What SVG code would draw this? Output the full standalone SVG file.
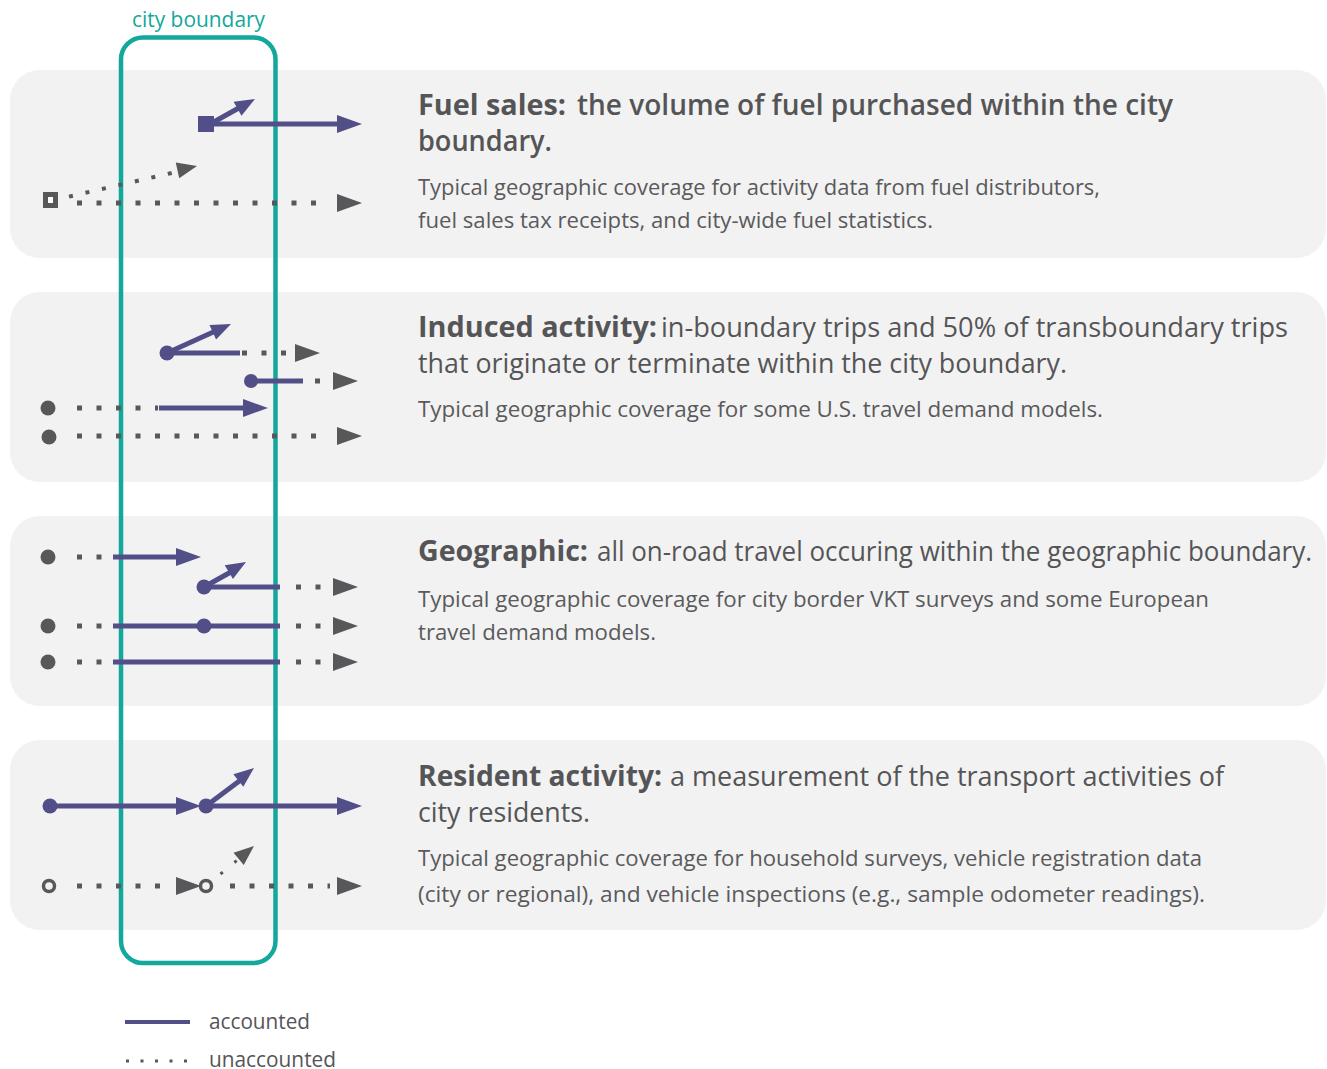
<svg xmlns="http://www.w3.org/2000/svg" xmlns:xlink="http://www.w3.org/1999/xlink" width="1327" height="1069" viewBox="0 0 1327 1069">
<style>
.bg{fill:#f2f2f2}
.t{font-family:"Open Sans","Noto Sans","Liberation Sans",sans-serif;fill:#555557}
.tb{font-size:28px;font-weight:700}
.tm{font-size:28px;font-weight:600}
.tr{font-size:28px;font-weight:400}
.ts{font-size:21px;font-weight:400;fill:#5a5a5c}
.acc{stroke:#524f88;stroke-width:5;fill:none}
.una{stroke:#58585a;stroke-width:5;fill:none;stroke-dasharray:5 14.5}
.pf{fill:#524f88}
.gf{fill:#58585a}
.bnd{fill:none;stroke:#13a89b;stroke-width:4.5}
.lab{font-family:"Open Sans","Noto Sans","Liberation Sans",sans-serif;font-size:22px}
</style>
<defs>
<path id="ah" d="M0,0 L-25,-9 L-25,9 Z"/>
<path id="ahs" d="M0,0 L-20,-8 L-20,8 Z"/>
</defs>

<g id="panel-fuel">
<rect class="bg" x="10" y="70" width="1316" height="188" rx="30"/>
<text class="t tb" x="418" y="115" textLength="148" lengthAdjust="spacingAndGlyphs">Fuel sales:</text>
<text class="t tm" x="577" y="115" textLength="596" lengthAdjust="spacingAndGlyphs">the volume of fuel purchased within the city</text>
<text class="t tm" x="418" y="151" textLength="134" lengthAdjust="spacingAndGlyphs">boundary.</text>
<text class="t ts" x="418" y="195" textLength="682" lengthAdjust="spacingAndGlyphs">Typical geographic coverage for activity data from fuel distributors,</text>
<text class="t ts" x="418" y="228" textLength="515" lengthAdjust="spacingAndGlyphs">fuel sales tax receipts, and city-wide fuel statistics.</text>
</g>

<g id="panel-induced">
<rect class="bg" x="10" y="292" width="1316" height="190" rx="30"/>
<text class="t tb" x="418" y="337" textLength="239" lengthAdjust="spacingAndGlyphs">Induced activity:</text>
<text class="t tr" x="661" y="337" textLength="627" lengthAdjust="spacingAndGlyphs">in-boundary trips and 50% of transboundary trips</text>
<text class="t tr" x="418" y="373" textLength="649" lengthAdjust="spacingAndGlyphs">that originate or terminate within the city boundary.</text>
<text class="t ts" x="418" y="417" textLength="685" lengthAdjust="spacingAndGlyphs">Typical geographic coverage for some U.S. travel demand models.</text>
</g>

<g id="panel-geographic">
<rect class="bg" x="10" y="516" width="1316" height="190" rx="30"/>
<text class="t tb" x="418" y="561" textLength="170" lengthAdjust="spacingAndGlyphs">Geographic:</text>
<text class="t tr" x="597" y="561" textLength="715" lengthAdjust="spacingAndGlyphs">all on-road travel occuring within the geographic boundary.</text>
<text class="t ts" x="418" y="607" textLength="791" lengthAdjust="spacingAndGlyphs">Typical geographic coverage for city border VKT surveys and some European</text>
<text class="t ts" x="418" y="640" textLength="238" lengthAdjust="spacingAndGlyphs">travel demand models.</text>
</g>

<g id="panel-resident">
<rect class="bg" x="10" y="740" width="1316" height="190" rx="30"/>
<text class="t tb" x="418" y="786" textLength="244" lengthAdjust="spacingAndGlyphs">Resident activity:</text>
<text class="t tr" x="670" y="786" textLength="554" lengthAdjust="spacingAndGlyphs">a measurement of the transport activities of</text>
<text class="t tr" x="418" y="822" textLength="172" lengthAdjust="spacingAndGlyphs">city residents.</text>
<text class="t ts" x="418" y="866" textLength="784" lengthAdjust="spacingAndGlyphs">Typical geographic coverage for household surveys, vehicle registration data</text>
<text class="t ts" x="418" y="902" textLength="787" lengthAdjust="spacingAndGlyphs">(city or regional), and vehicle inspections (e.g., sample odometer readings).</text>
</g>

<g id="city-boundary">
<rect class="bnd" x="121" y="37.5" width="154.5" height="925.5" rx="22"/>
<text class="lab" x="198.5" y="27" text-anchor="middle" fill="#13a89b" textLength="133" lengthAdjust="spacingAndGlyphs">city boundary</text>
</g>

<g id="connectors">
<!-- Panel 1: fuel sales -->
<rect class="pf" x="198" y="116" width="16" height="16"/>
<path class="acc" d="M212,124 H340"/>
<use xlink:href="#ah" class="pf" x="362" y="124"/>
<path class="acc" d="M212,123 L242.8,105.8"/>
<use xlink:href="#ahs" class="pf" transform="translate(255,99) rotate(-29.3)"/>
<rect x="45.5" y="194.5" width="10" height="11" fill="#ffffff" stroke="#58585a" stroke-width="5"/>
<path class="una" d="M77,203 H330"/>
<use xlink:href="#ah" class="gf" x="362" y="203"/>
<path class="una" d="M69,196.6 L178,171.5" style="stroke-width:4;stroke-dasharray:4 12.9"/>
<use xlink:href="#ahs" class="gf" transform="translate(197,166) rotate(-12.6)"/>

<!-- Panel 2: induced -->
<path class="acc" d="M167,353 H240"/>
<path class="una" d="M242,353 H290"/>
<use xlink:href="#ah" class="gf" x="320" y="353"/>
<path class="acc" d="M167,353 L218.3,329.8"/>
<use xlink:href="#ahs" class="pf" transform="translate(231,324) rotate(-24.4)"/>
<circle class="pf" cx="167" cy="353" r="7.5"/>
<path class="acc" d="M251,381 H303"/>
<path class="una" d="M315,381 H325"/>
<use xlink:href="#ah" class="gf" x="358" y="381"/>
<circle class="pf" cx="251" cy="381" r="7"/>
<path class="una" d="M77,408 H158"/>
<path class="acc" d="M159,408 H246"/>
<use xlink:href="#ah" class="pf" x="268" y="408"/>
<circle class="gf" cx="48" cy="408" r="7.5"/>
<path class="una" d="M77,436 H330"/>
<use xlink:href="#ah" class="gf" x="362" y="436"/>
<circle class="gf" cx="49" cy="437" r="7.5"/>

<!-- Panel 3: geographic -->
<path class="una" d="M77,557 H105"/>
<path class="acc" d="M113,557 H180"/>
<use xlink:href="#ah" class="pf" x="201" y="557"/>
<circle class="gf" cx="48" cy="557" r="7.5"/>
<path class="acc" d="M204,587 H280"/>
<path class="una" d="M296,587 H325"/>
<use xlink:href="#ah" class="gf" x="358" y="587"/>
<path class="acc" d="M204,587 L234,570.2"/>
<use xlink:href="#ahs" class="pf" transform="translate(246,562) rotate(-30.8)"/>
<circle class="pf" cx="204" cy="587" r="7.5"/>
<path class="una" d="M77,626 H105"/>
<path class="acc" d="M113,626 H280"/>
<path class="una" d="M296,626 H325"/>
<use xlink:href="#ah" class="gf" x="358" y="626"/>
<circle class="gf" cx="48" cy="626" r="7.5"/>
<circle class="pf" cx="204" cy="626" r="7.5"/>
<path class="una" d="M77,662 H105"/>
<path class="acc" d="M113,662 H280"/>
<path class="una" d="M296,662 H325"/>
<use xlink:href="#ah" class="gf" x="358" y="662"/>
<circle class="gf" cx="48" cy="662" r="7.5"/>

<!-- Panel 4: resident -->
<path class="acc" d="M50,806 H180"/>
<use xlink:href="#ah" class="pf" x="201" y="806"/>
<path class="acc" d="M206,806 H340"/>
<use xlink:href="#ah" class="pf" x="362" y="806"/>
<path class="acc" d="M206,806 L243,778.3"/>
<use xlink:href="#ahs" class="pf" transform="translate(254,768) rotate(-38.4)"/>
<circle class="pf" cx="50" cy="806" r="7.5"/>
<circle class="pf" cx="206" cy="806" r="7.5"/>
<path class="una" d="M77,886 H170"/>
<use xlink:href="#ah" class="gf" x="201" y="886"/>
<path class="una" d="M230,886 H330"/>
<use xlink:href="#ah" class="gf" x="362" y="886"/>
<path class="una" d="M220.5,874 L238,859.5" style="stroke-width:3;stroke-dasharray:3 15"/>
<use xlink:href="#ahs" class="gf" transform="translate(254,846) rotate(-39.8)"/>
<circle cx="49" cy="886" r="5.5" fill="#f2f2f2" stroke="#58585a" stroke-width="3.5"/>
<circle cx="206" cy="886" r="5.5" fill="#f2f2f2" stroke="#58585a" stroke-width="3.5"/>
</g>

<g id="legend">
<path class="acc" d="M125,1022 H190" style="stroke-width:4"/>
<text class="lab" x="209" y="1029" fill="#555557" textLength="101" lengthAdjust="spacingAndGlyphs">accounted</text>
<path d="M126,1061 H190" fill="none" stroke="#58585a" stroke-width="3" stroke-dasharray="3 11.5"/>
<text class="lab" x="209" y="1067" fill="#555557" textLength="127" lengthAdjust="spacingAndGlyphs">unaccounted</text>
</g>
</svg>
